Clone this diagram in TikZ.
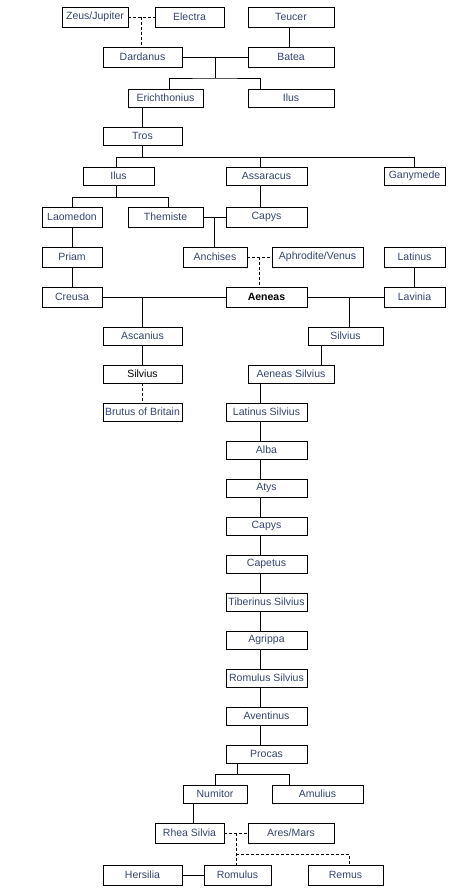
\documentclass[tikz,border=0pt]{standalone}
\usepackage{fontspec}
\setmainfont{Liberation Sans}
\usepackage{tikz}
\usetikzlibrary{calc,positioning}
\definecolor{namecol}{RGB}{52,68,112}

\begin{document}
\begin{tikzpicture}[x=1pt,y=-1pt,
    person/.style={draw, line width=0.8pt, minimum height=18pt, inner sep=0pt, text=namecol, font=\fontsize{10.5}{12}\selectfont},
    tall/.style={minimum height=20pt},
    partner/.style={dashed, line width=0.8pt, dash pattern=on 3pt off 2pt},
    line/.style={line width=0.8pt}]
          % page area
          \useasboundingbox (0,0) rectangle (454,891);

          % House of Dardanus
          \node[person, tall, minimum width=66pt] (zeus) at (95,17) {Zeus/Jupiter};
          \node[person, tall, minimum width=69pt] (electra) at (189.5,17) {Electra};
          \node[person, tall, minimum width=86pt] (teucer) at (291,17) {Teucer};
          \node[person, tall, minimum width=79pt] (dardanus) at (142.5,57) {Dardanus};
          \node[person, tall, minimum width=86pt] (batea) at (291,57) {Batea};
          \node[person, minimum width=75pt] (erichthonius) at (165.5,98) {Erichthonius};
          \node[person, minimum width=86pt] (ilusA) at (291,98) {Ilus};
          \node[person, minimum width=79pt] (tros) at (142.5,136) {Tros};
          \node[person, minimum width=71pt] (ilusB) at (118.5,176) {Ilus};
          \node[person, minimum width=81pt] (assaracus) at (266.5,176) {Assaracus};
          \node[person, minimum width=61pt] (ganymede) at (414.5,176) {Ganymede};

          % Troy and the parents of Aeneas
          \node[person, tall, minimum width=60pt] (laomedon) at (72,217) {Laomedon};
          \node[person, tall, minimum width=75pt] (themiste) at (165.5,217) {Themiste};
          \node[person, tall, minimum width=81pt] (capysA) at (266.5,217) {Capys};
          \node[person, tall, minimum width=60pt] (priam) at (72,257) {Priam};
          \node[person, tall, minimum width=64pt] (anchises) at (215,257) {Anchises};
          \node[person, tall, minimum width=91pt] (aphrodite) at (317.5,257) {Aphrodite/Venus};
          \node[person, tall, minimum width=61pt] (latinus) at (414.5,257) {Latinus};
          \node[person, tall, minimum width=60pt] (creusa) at (72,297) {Creusa};
          \node[person, tall, minimum width=81pt, text=black, font=\fontsize{10.5}{12}\selectfont\bfseries] (aeneas) at (266.5,297) {Aeneas};
          \node[person, tall, minimum width=61pt] (lavinia) at (414.5,297) {Lavinia};

          % Sons of Aeneas
          \node[person, minimum width=79pt] (ascanius) at (142.5,336) {Ascanius};
          \node[person, minimum width=75pt] (silviusR) at (345.5,336) {Silvius};
          \node[person, minimum width=79pt, text=black] (silviusL) at (142.5,374) {Silvius};
          \node[person, minimum width=86pt] (aeneasSilvius) at (291,374) {Aeneas Silvius};
          \node[person, minimum width=79pt] (brutus) at (142.5,412) {Brutus of Britain};

          % Kings of Alba Longa
          \node[person, minimum width=81pt] (latinusSilvius) at (266.5,412) {Latinus Silvius};
          \node[person, minimum width=81pt] (alba) at (266.5,450) {Alba};
          \node[person, minimum width=81pt] (atys) at (266.5,488) {Atys};
          \node[person, minimum width=81pt] (capysB) at (266.5,526) {Capys};
          \node[person, minimum width=81pt] (capetus) at (266.5,564) {Capetus};
          \node[person, minimum width=81pt] (tiberinus) at (266.5,602) {Tiberinus Silvius};
          \node[person, minimum width=81pt] (agrippa) at (266.5,640) {Agrippa};
          \node[person, minimum width=81pt] (romulusSilvius) at (266.5,678) {Romulus Silvius};
          \node[person, minimum width=81pt] (aventinus) at (266.5,716) {Aventinus};
          \node[person, minimum width=81pt] (procas) at (266.5,754) {Procas};

          % Founders of Rome
          \node[person, minimum width=64pt] (numitor) at (215,794) {Numitor};
          \node[person, minimum width=91pt] (amulius) at (317.5,794) {Amulius};
          \node[person, tall, minimum width=69pt] (rhea) at (189.5,833) {Rhea Silvia};
          \node[person, tall, minimum width=86pt] (ares) at (291,833) {Ares/Mars};
          \node[person, tall, minimum width=79pt] (hersilia) at (142.5,875) {Hersilia};
          \node[person, tall, minimum width=67pt] (romulus) at (237.5,875) {Romulus};
          \node[person, tall, minimum width=75pt] (remus) at (345.5,875) {Remus};

          % Dardanus line
          \draw[partner] (zeus) -- coordinate[midway] (zeusElectra) (electra);
          \draw[partner] (zeusElectra) -- (zeusElectra |- dardanus.north);
          \draw[line] (teucer.south -| 289,0) -- (batea.north -| 289,0);
          \draw[line] (dardanus) -- coordinate[midway] (dardanusBatea) (batea);
          \draw[line] (dardanusBatea) -- ++(0,21) coordinate (dardanusFork);
          \draw[line] (erichthonius.north -| 169,0) |- (dardanusFork) -| (ilusA.north -| 260,0);
          \draw[line] (erichthonius.south -| tros.north) -- (tros.north);

          % Tros and his sons
          \draw[line] (tros.south) -- ++(0,12) coordinate (trosFork);
          \draw[line] (ilusB.north -| 116,0) |- (trosFork) -| (ganymede.north);
          \draw[line] (trosFork -| 260,0) -- (assaracus.north -| 260,0);
          \draw[line] (ilusB.south -| 116,0) -- ++(0,12) coordinate (ilusFork);
          \draw[line] (laomedon.north) |- (ilusFork) -| (themiste.north -| 168,0);
          \draw[line] (assaracus.south -| 260,0) -- (capysA.north -| 260,0);
          \draw[line] (themiste) -- coordinate[midway] (themisteCapys) (capysA);
          \draw[line] (themisteCapys) -- (themisteCapys |- anchises.north);

          % Aeneas and his wives
          \draw[line] (laomedon) -- (priam);
          \draw[line] (priam) -- (creusa);
          \draw[line] (latinus) -- (lavinia);
          \draw[partner] (anchises) -- coordinate[midway] (anchisesAphrodite) (aphrodite);
          \draw[partner] (anchisesAphrodite) -- (anchisesAphrodite |- aeneas.north);
          \draw[line] (creusa) -- (aeneas);
          \draw[line] (aeneas) -- (lavinia);
          \draw[line] (creusa.east -| ascanius.north) -- (ascanius.north);
          \draw[line] (aeneas.east -| 349,0) -- (silviusR.north -| 349,0);
          \draw[line] (ascanius) -- (silviusL);
          \draw[partner] (silviusL) -- (brutus);
          \draw[line] (silviusR.south -| 321,0) -- (aeneasSilvius.north -| 321,0);

          % Alba Longa chain
          \draw[line] (aeneasSilvius.south -| 260,0) -- (latinusSilvius.north -| 260,0);
          \draw[line] (latinusSilvius.south -| 260,0) -- (alba.north -| 260,0);
          \draw[line] (alba.south -| 260,0) -- (atys.north -| 260,0);
          \draw[line] (atys.south -| 260,0) -- (capysB.north -| 260,0);
          \draw[line] (capysB.south -| 260,0) -- (capetus.north -| 260,0);
          \draw[line] (capetus.south -| 260,0) -- (tiberinus.north -| 260,0);
          \draw[line] (tiberinus.south -| 260,0) -- (agrippa.north -| 260,0);
          \draw[line] (agrippa.south -| 260,0) -- (romulusSilvius.north -| 260,0);
          \draw[line] (romulusSilvius.south -| 260,0) -- (aventinus.north -| 260,0);
          \draw[line] (aventinus.south -| 260,0) -- (procas.north -| 260,0);

          % Procas to Romulus and Remus
          \draw[line] (procas.south -| 237,0) -- ++(0,11) coordinate (procasFork);
          \draw[line] (numitor.north) |- (procasFork) -| (amulius.north -| 289,0);
          \draw[line] (numitor.south -| 193,0) -- (rhea.north -| 193,0);
          \draw[partner] (rhea) -- coordinate[midway] (rheaAres) (ares);
          \draw[partner] (rheaAres) -- (rheaAres |- romulus.north);
          \draw[partner] (rheaAres |- 0,854) -| (remus.north -| 349,0);
          \draw[line] (hersilia) -- (romulus);
        \end{tikzpicture}
\end{document}
